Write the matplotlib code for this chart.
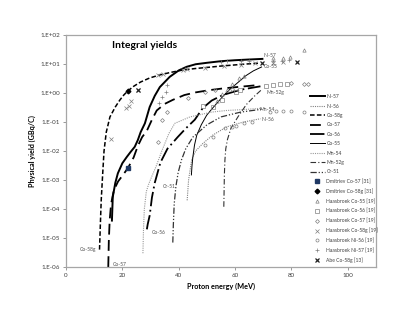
import matplotlib.pyplot as plt

plt.rcParams['font.family'] = ['Lato', 'DejaVu Sans']

# --- excitation-function fits (energy MeV, yield GBq/C) ---
ni57_e = [16.3, 16.6, 17.5, 18.4, 20.0, 21.6, 23.0, 24.4, 25.5, 26.5, 28.0, 29.7, 31.5, 33.3, 36.8, 40.0, 42.8, 46.0, 50.0, 55.0, 60.0, 65.0, 69.7]
ni57_y = [4e-5, 2.6e-4, 8e-4, 1.7e-3, 3.8e-3, 6.3e-3, 9.5e-3, 1.4e-2, 2.4e-2, 4.5e-2, 0.09, 0.33, 0.8, 1.6, 3.6, 6.0, 8.0, 9.8, 11.0, 12.5, 13.5, 14.3, 15.0]

ni56_e = [43.0, 43.5, 44.6, 46.0, 48.5, 52.0, 57.0, 63.0, 69.0]
ni56_y = [2e-4, 1e-3, 5e-3, 1e-2, 0.018, 0.035, 0.068, 0.10, 0.13]

co58g_e = [11.9, 12.2, 12.5, 13.0, 13.5, 14.3, 15.6, 17.5, 19.1, 20.5, 21.9, 24.0, 26.5, 29.7, 33.3, 37.0, 41.4, 46.0, 50.0, 55.0, 60.0, 64.0, 68.7]
co58g_y = [4e-6, 3e-5, 2e-4, 1.5e-3, 1e-2, 0.045, 0.15, 0.33, 0.57, 0.85, 1.17, 1.7, 2.4, 3.3, 4.2, 5.1, 6.2, 7.0, 7.6, 8.5, 9.3, 10.0, 10.7]

co57_e = [15.0, 15.2, 15.5, 16.0, 17.0, 18.5, 20.0, 22.0, 24.0, 25.5, 27.0, 28.7, 30.5, 32.2, 35.0, 37.9, 42.0, 46.0, 51.0, 56.0, 62.0, 68.7]
co57_y = [1e-6, 8e-6, 4e-5, 1.5e-4, 4.5e-4, 9e-4, 1.4e-3, 2.6e-3, 6e-3, 1.5e-2, 3e-2, 0.05, 0.12, 0.25, 0.42, 0.58, 0.85, 1.05, 1.26, 1.45, 1.65, 1.9]

co56_e = [28.7, 29.0, 29.7, 30.5, 31.5, 33.5, 36.0, 39.6, 42.5, 45.7, 48.5, 51.7, 55.6, 62.0, 69.0]
co56_y = [2e-5, 3e-5, 6e-5, 2.5e-4, 8e-4, 4e-3, 1.2e-2, 0.03, 0.06, 0.12, 0.3, 0.55, 0.85, 1.3, 1.7]

co55_e = [44.5, 44.7, 45.0, 45.6, 46.4, 48.0, 49.9, 52.0, 55.6, 58.0, 60.0, 63.9, 66.5, 69.4]
co55_y = [1.5e-3, 3e-3, 6e-3, 1.6e-2, 0.035, 0.08, 0.17, 0.3, 0.75, 1.3, 1.9, 4.0, 5.8, 7.9]

mn54_e = [27.3, 27.5, 27.8, 28.5, 29.3, 30.4, 32.0, 34.0, 36.5, 38.6, 44.0, 51.7, 57.0, 63.4, 69.5]
mn54_y = [3e-6, 2e-5, 1e-4, 4e-4, 7e-4, 1.3e-3, 3e-3, 1e-2, 0.04, 0.09, 0.15, 0.22, 0.25, 0.27, 0.30]

mn52g_e = [56.0, 56.1, 56.2, 56.4, 56.7, 57.3, 58.5, 61.0, 64.0, 67.0, 69.4]
mn52g_y = [1.2e-4, 4e-4, 1.5e-3, 5e-3, 1.2e-2, 0.025, 0.06, 0.15, 0.4, 0.8, 1.3]

cr51_e = [37.9, 38.1, 38.4, 39.0, 39.8, 41.0, 42.5, 45.0, 50.0, 55.0, 62.0, 70.0]
cr51_y = [7e-6, 3e-5, 1.5e-4, 6e-4, 1.8e-3, 5e-3, 1.2e-2, 3e-2, 0.08, 0.15, 0.22, 0.28]

# --- measured points ---
dm_co57_e, dm_co57_y = [22.0], [2.6e-3]
dm_co58g_e, dm_co58g_y = [21.9], [1.17]
hb_co55_e = [53.5, 55.5, 57.0, 59.0, 61.5, 63.0, 73.5, 77.0, 79.5, 84.5]
hb_co55_y = [0.55, 0.9, 1.3, 2.0, 3.2, 4.0, 16.0, 16.0, 17.0, 30.0]
hb_co56_e = [48.5, 52.0, 55.2, 60.5, 61.6, 71.0, 73.5, 76.0, 78.5]
hb_co56_y = [0.35, 0.33, 0.57, 1.07, 1.3, 1.8, 1.9, 2.0, 2.0]
hb_co57_e = [32.5, 34.0, 35.7, 43.2, 49.2, 52.8, 59.0, 80.0, 84.5, 86.0]
hb_co57_y = [0.02, 0.12, 0.22, 0.66, 1.07, 1.27, 1.4, 2.2, 2.0, 2.0]
hb_co58g_e = [15.9, 21.3, 22.3, 23.0, 25.5, 32.6, 34.4, 41.4, 43.0, 49.2, 56.0, 62.0, 67.0, 73.5, 77.0]
hb_co58g_y = [0.026, 0.3, 0.35, 0.52, 1.26, 4.2, 4.4, 6.2, 6.5, 7.3, 8.5, 9.5, 10.5, 11.0, 11.5]
hb_ni56_e = [49.2, 52.0, 56.3, 58.8, 60.5, 63.0, 66.0, 72.5, 74.5, 77.0, 80.0, 84.5]
hb_ni56_y = [0.016, 0.03, 0.063, 0.068, 0.075, 0.09, 0.10, 0.22, 0.24, 0.24, 0.24, 0.22]
hb_ni57_e = [33.0, 34.0, 35.5, 36.0, 55.0, 57.0, 62.0, 65.0, 73.5, 76.5, 79.0]
hb_ni57_y = [0.45, 0.75, 1.1, 1.9, 12.0, 12.5, 12.5, 13.0, 12.5, 13.0, 14.0]
abe_co58g_e = [25.5, 69.5, 82.0]
abe_co58g_y = [1.3, 10.5, 12.0]

curve_labels = ['Ni-57', 'Co-55', 'Mn-52g', 'Mn-54', 'Ni-56', 'Cr-51', 'Co-56', 'Co-58g', 'Co-57']
label_x = [70.0, 70.0, 71.0, 68.5, 69.5, 34.3, 30.4, 5.0, 16.6]
label_y = [19.0, 8.0, 1.05, 0.26, 0.12, 5.8e-4, 1.6e-5, 3.9e-6, 1.25e-6]

fig = plt.figure(figsize=(4.15, 3.21), dpi=100)
ax = fig.add_axes([0.159, 0.168, 0.747, 0.723])

ax.plot(ni57_e, ni57_y, color='black', lw=1.4, ls='-', label='Ni-57')
ax.plot(ni56_e, ni56_y, color='#808080', lw=0.8, ls=(0, (1, 1)), label='Ni-56')
ax.plot(co58g_e, co58g_y, color='black', lw=1.1, ls=(0, (3, 1.5)), label='Co-58g')
ax.plot(co57_e, co57_y, color='black', lw=1.3, ls=(0, (6, 3)), label='Co-57')
ax.plot(co56_e, co56_y, color='black', lw=1.3, ls=(0, (8, 2, 1, 2)), label='Co-56')
ax.plot(co55_e, co55_y, color='black', lw=0.7, ls='-', label='Co-55')
ax.plot(mn54_e, mn54_y, color='#999999', lw=0.8, ls=(0, (1, 1)), label='Mn-54')
ax.plot(mn52g_e, mn52g_y, color='#333333', lw=0.8, ls=(0, (5, 2, 1, 2)), label='Mn-52g')
ax.plot(cr51_e, cr51_y, color='#333333', lw=0.9, ls=(0, (5, 1.5, 1, 1.5, 1, 1.5)), label='Cr-51')

mk = '#808080'
ax.plot(dm_co57_e, dm_co57_y, ls='none', marker='s', ms=2.4, color='#1f3864', label='Dmitriev Co-57 [31]')
ax.plot(dm_co58g_e, dm_co58g_y, ls='none', marker='D', ms=2.4, color='black', label='Dmitriev Co-58g [31]')
ax.plot(hb_co55_e, hb_co55_y, ls='none', marker='^', ms=2.4, mfc='none', mec=mk, mew=0.5, label='Haasbroek Co-55 [19]')
ax.plot(hb_co56_e, hb_co56_y, ls='none', marker='s', ms=2.4, mfc='none', mec=mk, mew=0.5, label='Haasbroek Co-56 [19]')
ax.plot(hb_co57_e, hb_co57_y, ls='none', marker='D', ms=2.0, mfc='none', mec=mk, mew=0.5, label='Haasbroek Co-57 [19]')
ax.plot(hb_co58g_e, hb_co58g_y, ls='none', marker='x', ms=2.4, color=mk, mew=0.5, label='Haasbroek Co-58g [19]')
ax.plot(hb_ni56_e, hb_ni56_y, ls='none', marker='o', ms=2.2, mfc='none', mec=mk, mew=0.5, label='Haasbroek Ni-56 [19]')
ax.plot(hb_ni57_e, hb_ni57_y, ls='none', marker='+', ms=2.8, color=mk, mew=0.5, label='Haasbroek Ni-57 [19]')
ax.plot(abe_co58g_e, abe_co58g_y, ls='none', marker='x', ms=2.4, color='#222222', mew=0.9, label='Abe Co-58g [13]')

for t, lx, ly in zip(curve_labels, label_x, label_y):
    ax.text(lx, ly, t, fontsize=3.6, color='#505050', va='center', ha='left')

ax.set_yscale('log')
ax.set_xlim(0, 110)
ax.set_ylim(1e-6, 1e2)
ax.set_xticks([0, 20, 40, 60, 80, 100])
yt = [1e-6, 1e-5, 1e-4, 1e-3, 1e-2, 1e-1, 1e0, 1e1, 1e2]
ax.set_yticks(yt)
ax.set_yticklabels(['1.E-06', '1.E-05', '1.E-04', '1.E-03', '1.E-02', '1.E-01', '1.E+00', '1.E+01', '1.E+02'])
ax.minorticks_off()
ax.tick_params(axis='both', labelsize=4.5, length=2.5, width=0.6, color='#888888', labelcolor='#404040', pad=2)
for s in ax.spines.values():
    s.set_color('#a6a6a6')
    s.set_linewidth(0.9)

ax.set_xlabel('Proton energy (MeV)', fontsize=5.2, fontweight='bold', labelpad=3)
ax.set_ylabel('Physical yield (GBq/C)', fontsize=5.2, fontweight='bold', labelpad=3)
ax.text(28, 42, 'Integral yields', fontsize=7.5, fontweight='bold', ha='center', va='center')

leg = ax.legend(loc='upper left', bbox_to_anchor=(0.787, 0.745), frameon=False, fontsize=3.6,
                handlelength=3.0, handletextpad=0.3, labelspacing=0.88, borderpad=0, borderaxespad=0,
                numpoints=1)
for t in leg.get_texts():
    t.set_color('#404040')

fig.savefig('out.png', dpi=100)
